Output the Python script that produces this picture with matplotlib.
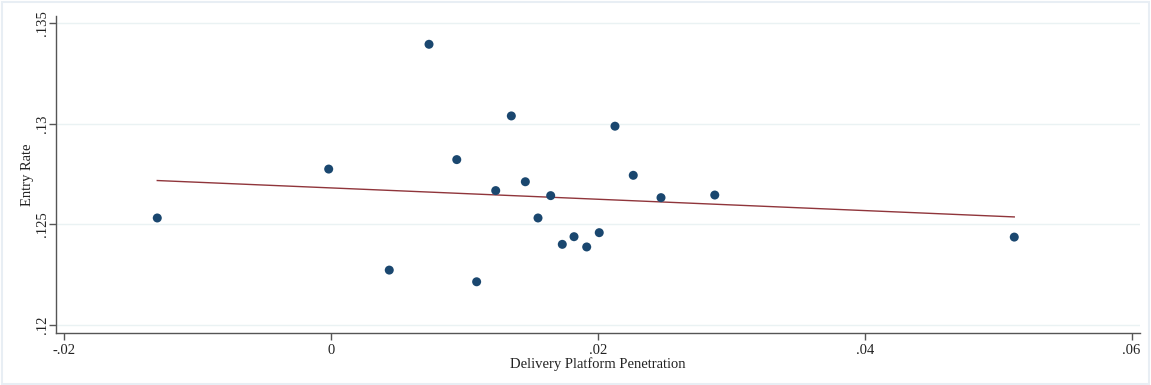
import numpy as np
import matplotlib
matplotlib.use("Agg")
import matplotlib.pyplot as plt
from matplotlib.patches import Rectangle

# --- data ---
penetration = [-0.01303, -0.00018, 0.00436, 0.00734, 0.00942, 0.01091, 0.01234,
               0.01351, 0.01456, 0.01551, 0.01646, 0.01733, 0.01821, 0.01916,
               0.02010, 0.02128, 0.02265, 0.02473, 0.02876, 0.05121]
entry_rate = [0.12532, 0.12775, 0.12273, 0.13395, 0.12822, 0.12215, 0.12668,
              0.13039, 0.12712, 0.12532, 0.12643, 0.12401, 0.12439, 0.12388,
              0.12459, 0.12988, 0.12744, 0.12633, 0.12646, 0.12437]
x_ticks = [-0.02, 0, 0.02, 0.04, 0.06]
x_tick_labels = ['-.02', '0', '.02', '.04', '.06']
y_ticks = [0.12, 0.125, 0.13, 0.135]
y_tick_labels = ['.12', '.125', '.13', '.135']

navy = '#1a476f'
maroon = '#90353b'
axis_col = '#555555'
grid_col = '#eaf2f3'

plt.rcParams['font.family'] = ['Liberation Serif', 'DejaVu Serif']

fig = plt.figure(figsize=(11.51, 3.85), dpi=100)
fig.patches.append(Rectangle((0.002, 0.003), 0.996, 0.992, transform=fig.transFigure,
                             fill=False, edgecolor='#e8eef4', linewidth=1.5))
ax = fig.add_axes([0.0489, 0.1343, 0.9416, 0.8249])

# --- linear fit ---
x = np.array(penetration)
y = np.array(entry_rate)
slope, intercept = np.polyfit(x, y, 1)
xf = np.array([x.min(), x.max()])
ax.plot(xf, intercept + slope * xf, color=maroon, linewidth=1.0, zorder=2)

ax.scatter(x, y, s=42, color=navy, edgecolors='none', zorder=3)

ax.set_xlim(-0.0206, 0.06064)
ax.set_ylim(0.11959, 0.13537)
ax.set_xticks(x_ticks)
ax.set_xticklabels(x_tick_labels)
ax.set_yticks(y_ticks)
ax.set_yticklabels(y_tick_labels, rotation=90, va='center')

for yt in y_ticks:
    ax.axhline(yt, color=grid_col, linewidth=1.0, zorder=0)

for side in ['top', 'right']:
    ax.spines[side].set_visible(False)
for side in ['left', 'bottom']:
    ax.spines[side].set_color(axis_col)
    ax.spines[side].set_linewidth(1.0)

ax.tick_params(axis='both', colors=axis_col, length=5, width=1.0,
               labelsize=10.5, labelcolor='#222222')
ax.tick_params(axis='y', pad=0.5)
ax.tick_params(axis='x', pad=3)

ax.set_xlabel('Delivery Platform Penetration', fontsize=10.5, color='#222222', labelpad=0)
ax.set_ylabel('Entry Rate', fontsize=10.5, color='#222222', va='center')
ax.yaxis.set_label_coords(-0.027, 0.5)

fig.savefig('out.png', dpi=100)
